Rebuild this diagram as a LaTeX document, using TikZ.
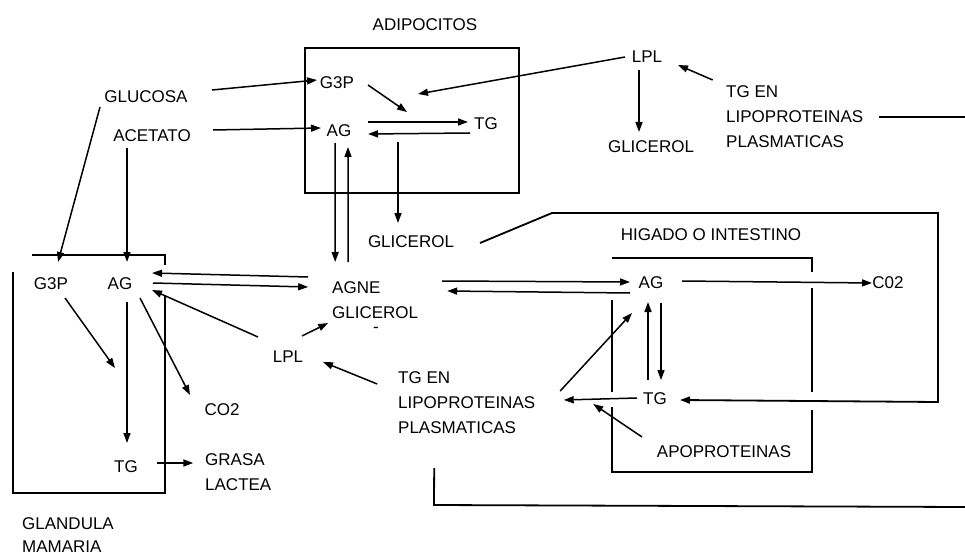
\documentclass[tikz,border=0pt]{standalone}
\usepackage{fontspec}
\setmainfont{Liberation Sans}
\usetikzlibrary{arrows.meta,calc}
\begin{document}
\begin{tikzpicture}[x=1pt,y=-1pt,
  lbl/.style={inner sep=0pt, font=\fontsize{17}{25}\selectfont},
  multi/.style={lbl, align=left},
  arr/.style={line width=1.5pt, -{Triangle[length=10pt,width=7pt]}},
  box/.style={line width=2.4pt},
  link/.style={line width=1.8pt}]
\useasboundingbox[fill=white] (0,0) rectangle (965,556);

% labels
\node[lbl] (adip) at (425,25) {ADIPOCITOS};
\node[lbl] (glucosa) at (146,97) {GLUCOSA};
\node[lbl] (acetato) at (152,136) {ACETATO};
\node[lbl] (g3pA) at (337,83) {G3P};
\node[lbl] (agA) at (339,131) {AG};
\node[lbl] (tgA) at (486,124) {TG};
\node[lbl] (glicA) at (411,242) {GLICEROL};
\node[lbl] (lplT) at (647,57) {LPL};
\node[lbl] (glicT) at (651,147) {GLICEROL};
\node[multi, anchor=west] (tgenT) at (726,117) {TG EN\\LIPOPROTEINAS\\PLASMATICAS};
\node[lbl] (higado) at (711,235) {HIGADO O INTESTINO};
\node[lbl] (agH) at (651,283) {AG};
\node[lbl] (co2H) at (888,283) {C02};
\node[lbl] (tgH) at (655,399) {TG};
\node[lbl] (apo) at (724,452) {APOPROTEINAS};
\node[multi, anchor=west] (agne) at (332,300) {AGNE\\GLICEROL};
\node[lbl] (dash) at (376,330) {-};
\node[lbl] (lplM) at (288,357) {LPL};
\node[multi, anchor=west] (tgenB) at (398,403) {TG EN\\LIPOPROTEINAS\\PLASMATICAS};
\node[lbl] (g3pG) at (51,284) {G3P};
\node[lbl] (agG) at (120,284) {AG};
\node[lbl] (co2G) at (222,410) {CO2};
\node[lbl] (tgG) at (126,467) {TG};
\node[multi, anchor=west] (grasa) at (205,472.5) {GRASA\\LACTEA};
\node[multi, anchor=west, font=\fontsize{17}{23}\selectfont] (glandula) at (22,535.5) {GLANDULA\\MAMARIA};

\coordinate (synA) at (407,112);
\coordinate (lplIn) at (418,94);
\coordinate (synG) at (115,368);

% boxes
\draw[box] (305,48) rectangle (519,193);
\draw[box] (32,255) -- (165,255) -- (165,265);
\draw[box] (165,295) -- (165,493) -- (13,493) -- (13,272);
\draw[box] (612,258) -- (812,258) -- (812,272);
\draw[box] (812,288) -- (812,392);
\draw[box] (812,410) -- (812,472) -- (612,472) -- (612,407);
\draw[box] (612,392) -- (612,300);

% adipocitos
\draw[arr] ($(glucosa)+(66,-7)$) -- ($(g3pA)+(-20,-3)$);
\draw[arr] ($(acetato)+(61,-6)$) -- ($(agA)+(-18,-3)$);
\draw[arr] ($(g3pA)+(31,2)$) -- (synA);
\draw[arr] ($(lplT)+(-22,0)$) -- (lplIn);
\draw[arr] ($(agA)+(29,-9)$) -- ($(tgA)+(-18,-2)$);
\draw[arr] ($(tgA)+(-16,9)$) -- ($(agA)+(29,3)$);
\draw[arr] ($(tgA)+(-88,18)$) -- ($(glicA)+(-13,-19)$);
\draw[arr] ($(agA)+(-4,12)$) -- ($(agne)+(-40,-38)$);
\draw[arr] ($(agne)+(-27,-38)$) -- ($(agA)+(9,16)$);
\draw[arr] ($(lplT)+(-8,13)$) -- ($(glicT)+(-12,-15)$);
\draw[arr] ($(tgenT)+(-82,-37)$) -- ($(lplT)+(31,8)$);

% higado
\draw[arr] ($(agne)+(67,-19)$) -- ($(agH)+(-21,-1)$);
\draw[arr] ($(agH)+(-21,10)$) -- ($(agne)+(72,-9)$);
\draw[arr] ($(agH)+(31,-2)$) -- ($(co2H)+(-16,0)$);
\draw[arr] ($(tgH)+(-7,-19)$) -- ($(agH)+(-3,19)$);
\draw[arr] ($(agH)+(10,20)$) -- ($(tgH)+(6,-19)$);
\draw[arr] ($(tgH)+(-18,-1)$) -- ($(tgenB)+(97,-3)$);
\draw[arr] ($(apo)+(-82,-15)$) -- ($(tgenB)+(126.5,1)$);
\draw[arr] ($(tgenB)+(93.5,-12)$) -- ($(agH)+(-19,30)$);

% middle
\draw[arr] ($(tgenB)+(-89.5,-19)$) -- ($(lplM)+(35,5)$);
\draw[arr] ($(lplM)+(14,-21)$) -- ($(agne)+(-47,23)$);
\draw[arr] ($(lplM)+(-30,-20)$) -- ($(agG)+(32,6)$);
\draw[arr] ($(agne)+(-67,-23)$) -- ($(agG)+(32,-11)$);
\draw[arr] ($(agG)+(33,-1)$) -- ($(agne)+(-67,-13)$);

% glandula
\draw[arr] ($(glucosa)+(-46,10)$) -- ($(g3pG)+(7,-22)$);
\draw[arr] ($(acetato)+(-25,12)$) -- ($(agG)+(7,-22)$);
\draw[arr] ($(g3pG)+(14,14)$) -- (synG);
\draw[arr] ($(agG)+(7,18)$) -- ($(tgG)+(1,-24)$);
\draw[arr] ($(agG)+(20,14)$) -- ($(co2G)+(-32,-15)$);
\draw[arr] ($(tgG)+(31,-4)$) -- ($(grasa)+(-45,-9.5)$);

% long links
\draw[link, -{Triangle[length=10pt,width=7pt]}] ($(glicA)+(69,1)$) -- (552,213) -- (938,213) -- (938,402) -- ($(tgH)+(25,1)$);
\draw[link] ($(tgenT)+(84.5,0)$) -- (965,117);
\draw[link] ($(tgenB)+(-32.5,65)$) -- (434,505) -- (965,507);
\end{tikzpicture}
\end{document}
